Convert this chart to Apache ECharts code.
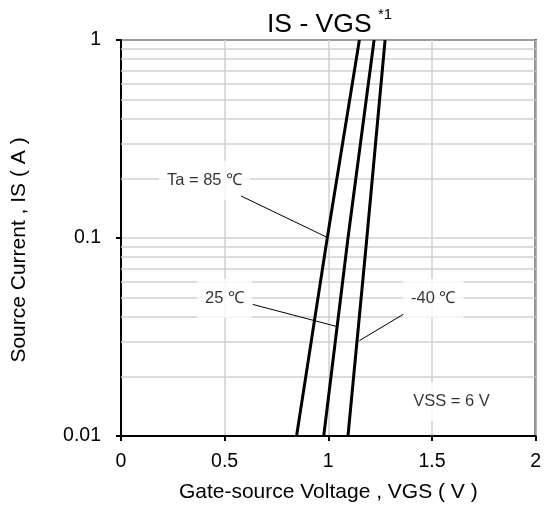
<!DOCTYPE html>
<html><head><meta charset="utf-8">
<script src="https://cdn.jsdelivr.net/npm/echarts@6/dist/echarts.min.js"></script>
<style>html,body{margin:0;padding:0;background:#fff}#c{width:544px;height:508px}</style>
</head><body><div id="c"></div>
<script>
// ---- data ----
const curveIS = [0.01, 0.1, 1];               // source current (A) at which VGS was read
const vgs85 = [0.847, 0.995, 1.150];          // Ta = 85 C
const vgs25 = [0.978, 1.095, 1.221];          // Ta = 25 C
const vgsM40 = [1.095, 1.186, 1.274];         // Ta = -40 C
const xTicks = [0, 0.5, 1, 1.5, 2];
const yTickValues = [0.01, 0.1, 1];
const yTickLabels = ['0.01', '0.1', '1'];
const yMinorGrid = [0.02, 0.03, 0.04, 0.05, 0.06, 0.07, 0.08, 0.09, 0.2, 0.3, 0.4, 0.5, 0.6, 0.7, 0.8, 0.9];
const labelTexts = ['Ta = 85 ℃', '25 ℃', '-40 ℃', 'VSS = 6 V'];
const labelVGS = [0.403, 0.499, 1.506, 1.594];
const labelIS = [0.196, 0.0496, 0.0496, 0.0149];
const leader85 = [[0.579, 0.163], [0.994, 0.1008]];
const leader25 = [[0.635, 0.0462], [1.047, 0.0356]];
const leaderM40 = [[1.362, 0.0412], [1.150, 0.0303]];

const FONT = "'Liberation Sans', Arial, sans-serif";
const GRIDC = '#d0d0d0';
const zip = (xs, ys) => xs.map((x, i) => [x, ys[i]]);

const chart = echarts.init(document.getElementById('c'), null, {renderer: 'canvas'});

function curve(name, xs) {
  return {name, type: 'line', data: zip(xs, curveIS), symbol: 'none', z: 6,
    lineStyle: {color: '#000', width: 3}, silent: true};
}
function leader(pts) {
  return {type: 'line', data: pts, symbol: 'none', z: 5,
    lineStyle: {color: '#000', width: 1}, silent: true};
}

const option = {
  animation: false,
  backgroundColor: '#fff',
  title: [
    {text: 'IS - VGS', left: 267, top: 11, padding: 0,
     textStyle: {fontFamily: FONT, fontSize: 26.5, fontWeight: 'normal', color: '#000'}},
    {text: '*1', left: 378, top: 7, padding: 0,
     textStyle: {fontFamily: FONT, fontSize: 15, fontWeight: 'normal', color: '#000'}}
  ],
  grid: {left: 121, right: 6, top: 40, bottom: 72, show: true, borderColor: '#000', borderWidth: 2},
  xAxis: {
    type: 'value', min: xTicks[0], max: xTicks[xTicks.length - 1], interval: xTicks[1] - xTicks[0],
    name: 'Gate-source Voltage , VGS ( V )', nameLocation: 'middle', nameGap: 46,
    nameTextStyle: {fontFamily: FONT, fontSize: 21, color: '#000'},
    axisLine: {lineStyle: {color: '#000', width: 2}},
    axisTick: {show: true, length: 5, lineStyle: {color: '#000', width: 2}},
    axisLabel: {fontFamily: FONT, fontSize: 19.5, color: '#000', margin: 16,
      formatter: v => String(v)},
    splitLine: {show: true, lineStyle: {color: GRIDC, width: 1.5}}
  },
  yAxis: {
    type: 'log', logBase: 10, min: yTickValues[0], max: yTickValues[yTickValues.length - 1],
    name: 'Source Current , IS ( A )', nameLocation: 'middle', nameGap: 91,
    nameTextStyle: {fontFamily: FONT, fontSize: 21, color: '#000', padding: [0, 24, 0, 0]},
    axisLine: {show: true, lineStyle: {color: '#000', width: 2}},
    axisTick: {show: true, length: 5, lineStyle: {color: '#000', width: 2}},
    axisLabel: {fontFamily: FONT, fontSize: 19.5, color: '#000', margin: 20,
      formatter: v => {
        let best = 0;
        yTickValues.forEach((t, i) => { if (Math.abs(Math.log10(t) - Math.log10(v)) < Math.abs(Math.log10(yTickValues[best]) - Math.log10(v))) best = i; });
        return yTickLabels[best];
      }},
    splitLine: {show: true, lineStyle: {color: GRIDC, width: 1.5}}
  },
  series: [
    {type: 'line', data: [], silent: true, z: 1,
     markLine: {silent: true, symbol: 'none', z: 1, label: {show: false}, animation: false,
       lineStyle: {color: GRIDC, width: 1.5, type: 'solid'},
       data: yMinorGrid.map(v => ({yAxis: v}))}},
    {type: 'scatter', z: 4, silent: true, symbolSize: 0,
     data: labelTexts.map((t, i) => ({value: [labelVGS[i], labelIS[i]], text: t})),
     label: {show: true, position: 'inside', formatter: p => p.data.text,
       fontFamily: FONT, fontSize: 16.5, color: '#000', backgroundColor: '#fff', padding: [11, 8]}},
    leader(leader85), leader(leader25), leader(leaderM40),
    curve('85', vgs85), curve('25', vgs25), curve('-40', vgsM40)
  ]
};
chart.setOption(option);
</script></body></html>
